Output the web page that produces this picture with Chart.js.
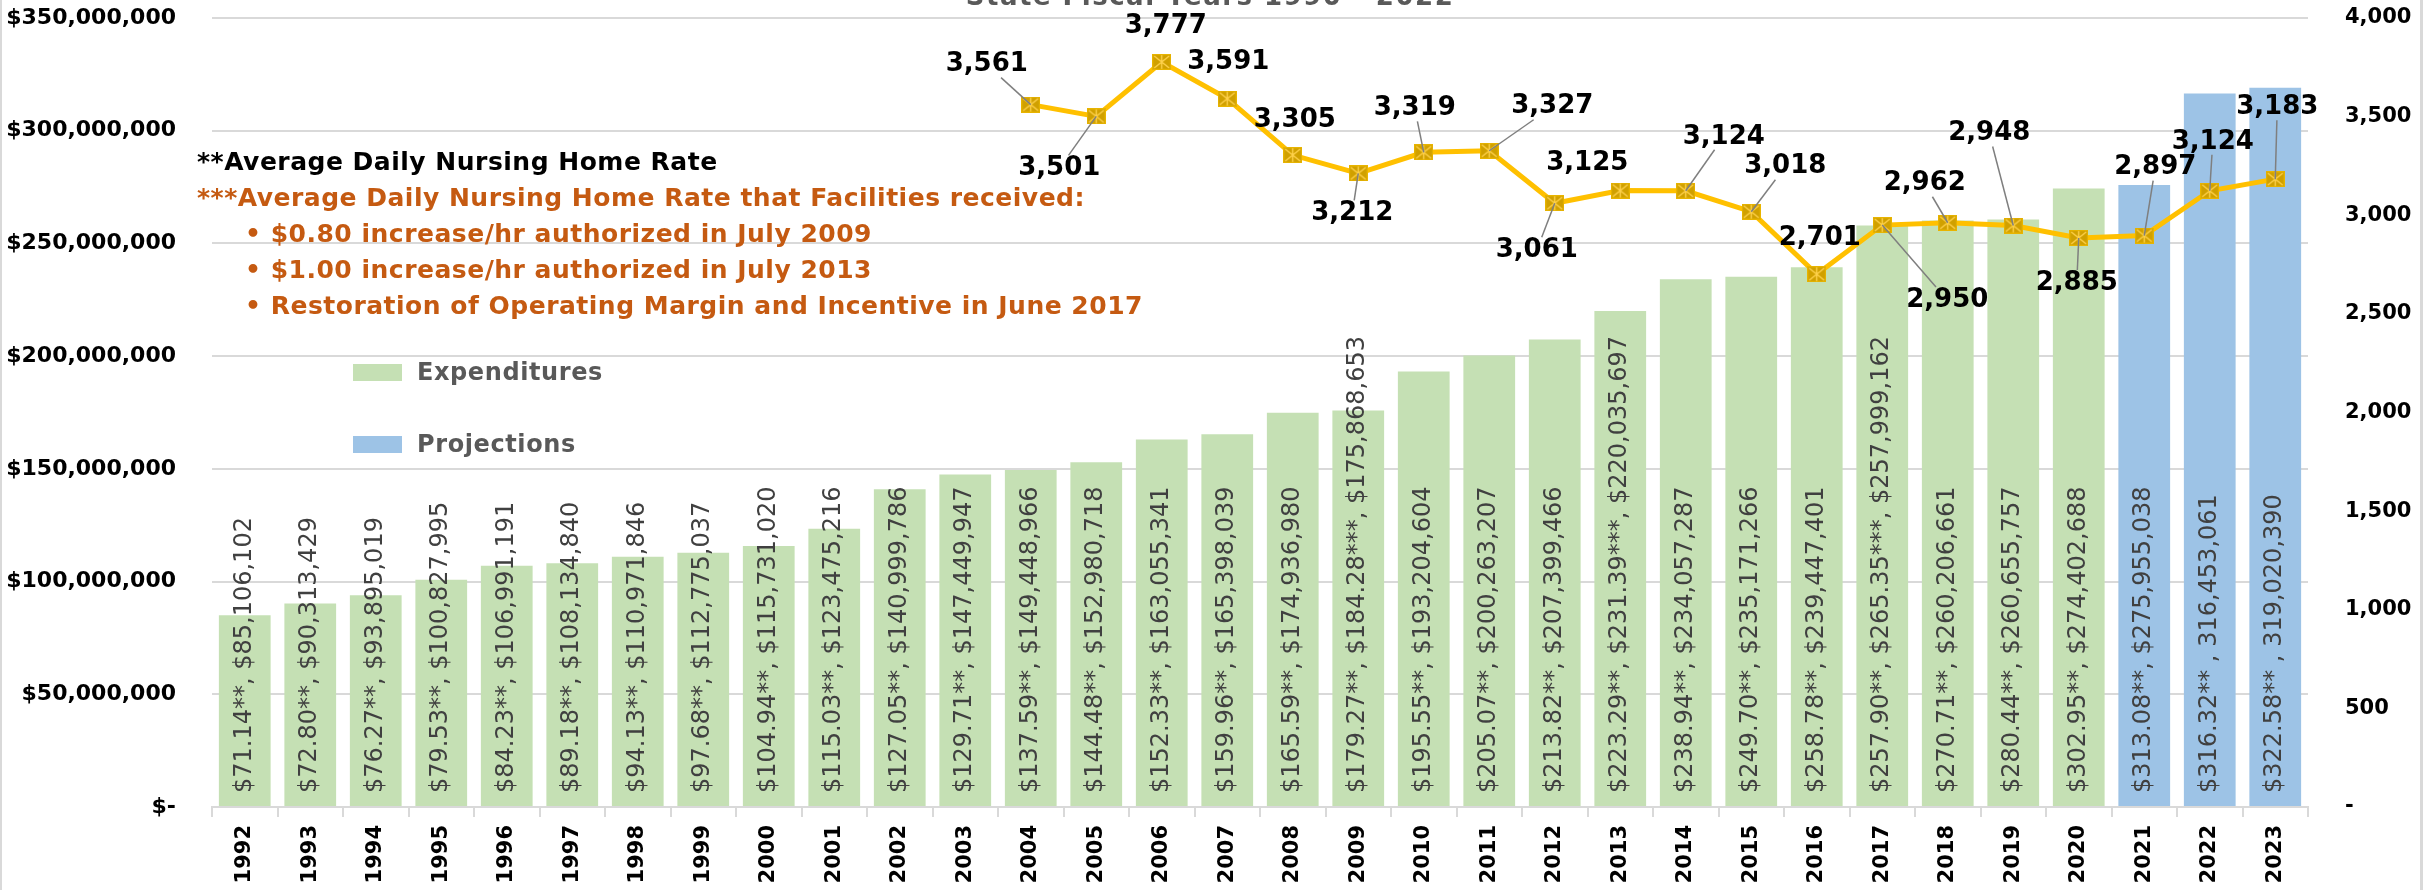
<!DOCTYPE html>
<html>
<head>
<meta charset="utf-8">
<script src="https://cdn.jsdelivr.net/npm/chart.js@4.4.1/dist/chart.umd.min.js"></script>
<style>
  html, body { margin: 0; padding: 0; background: #fff; }
  #wrap { position: relative; width: 2433px; height: 890px; overflow: hidden; font-family: 'DejaVu Sans', sans-serif; }
  #chart { position: absolute; left: 0; top: 0; }
  .frame { position: absolute; left: 0; top: 0; width: 2418px; height: 890px; border-left: 2px solid #d9d9d9; border-right: 3px solid #d9d9d9; }
  .title { position: absolute; left: 0; width: 2420px; top: -17px; line-height: 26px; text-align: center; font-weight: bold; font-size: 26px; letter-spacing: 1.5px; color: #595959; }
  .notes { position: absolute; left: 197px; top: 144px; font-weight: bold; font-size: 25px; letter-spacing: 0.5px; line-height: 36px; color: #c55a11; white-space: nowrap; }
  .notes .black { color: #000; }
  .notes .bullet { padding-left: 48px; }
  .legend-item { position: absolute; left: 353px; height: 17px; white-space: nowrap; }
  .legend-item .box { position: absolute; left: 0; top: 0; width: 49px; height: 17px; }
  .legend-item .txt { position: absolute; left: 64px; top: -8px; line-height: 33px; font-weight: bold; font-size: 24px; letter-spacing: 0.6px; color: #595959; }
</style>
</head>
<body>
<div id="wrap">
  <div class="frame"></div>
  <canvas id="chart" width="2433" height="890"></canvas>
  <div class="title">State Fiscal Years 1990 - 2022</div>
  <div class="notes">
    <div class="black">**Average Daily Nursing Home Rate</div>
    <div>***Average Daily Nursing Home Rate that Facilities received:</div>
    <div class="bullet">• $0.80 increase/hr authorized in July 2009</div>
    <div class="bullet">• $1.00 increase/hr authorized in July 2013</div>
    <div class="bullet">• Restoration of Operating Margin and Incentive in June 2017</div>
  </div>
  <div id="legend"></div>
</div>
<script>
// fiscal years
const years = ['1992', '1993', '1994', '1995', '1996', '1997', '1998', '1999', '2000', '2001',
  '2002', '2003', '2004', '2005', '2006', '2007', '2008', '2009', '2010', '2011',
  '2012', '2013', '2014', '2015', '2016', '2017', '2018', '2019', '2020', '2021', '2022', '2023'];

// actual spending (left axis)
const expenditures = [85106102, 90313429, 93895019, 100827995, 106991191, 108134840, 110971846, 112775037,
  115731020, 123475216, 140999786, 147449947, 149448966, 152980718, 163055341, 165398039, 174936980,
  175868653, 193204604, 200263207, 207399466, 220035697, 234057287, 235171266, 239447401, 257999162,
  260206661, 260655757, 274402688, null, null, null];

// projected spending (left axis)
const projections = [null, null, null, null, null, null, null, null, null, null, null, null, null, null, null,
  null, null, null, null, null, null, null, null, null, null, null, null, null, null,
  275955038, 316453061, 319020390];

// ** average daily nursing home rate
const dailyRate = [71.14, 72.80, 76.27, 79.53, 84.23, 89.18, 94.13, 97.68, 104.94, 115.03, 127.05, 129.71,
  137.59, 144.48, 152.33, 159.96, 165.59, 179.27, 195.55, 205.07, 213.82, 223.29, 238.94, 249.70, 258.78,
  257.90, 270.71, 280.44, 302.95, 313.08, 316.32, 322.58];

// *** rate that facilities received after the increases
const receivedRate = [null, null, null, null, null, null, null, null, null, null, null, null, null, null, null,
  null, null, 184.28, null, null, null, 231.39, null, null, null, 265.35, null, null, null, null, null, null];

// line series (right axis)
const lineValues = [null, null, null, null, null, null, null, null, null, null, null, null,
  3561, 3501, 3777, 3591, 3305, 3212, 3319, 3327, 3061, 3125, 3124, 3018, 2701, 2950, 2962, 2948,
  2885, 2897, 3124, 3183];

// years whose bar label prints the amount without a dollar sign
const plainAmountYears = ['2022', '2023'];

// where each line label sits relative to its point: [dx, dy, leader line]
const lineLabelPlacement = {
  '2004': [-44, -40, true], '2005': [-37, 52, true], '2006': [4, -36, false], '2007': [1, -36, false],
  '2008': [2, -35, false], '2009': [-6, 40, true], '2010': [-9, -44, true], '2011': [63, -44, true],
  '2012': [-18, 47, true], '2013': [-33, -27, false], '2014': [38, -54, true], '2015': [34, -45, true],
  '2016': [3, -36, false], '2017': [65, 75, true], '2018': [-23, -39, true], '2019': [-24, -92, true],
  '2020': [-2, 45, true], '2021': [11, -68, true], '2022': [3, -49, true], '2023': [2, -72, true]
};

const FONT = "'DejaVu Sans', sans-serif";
const fmt = v => v.toLocaleString('en-US');

function barLabel(i) {
  let s = '$' + dailyRate[i].toFixed(2) + '**';
  if (receivedRate[i] != null) s += ', $' + receivedRate[i].toFixed(2) + '***';
  const amount = expenditures[i] != null ? expenditures[i] : projections[i];
  if (plainAmountYears.includes(years[i])) return s + ' , ' + fmt(amount);
  return s + ', $' + fmt(amount);
}

function makeMarker() {
  const c = document.createElement('canvas');
  c.width = 19; c.height = 16;
  const g = c.getContext('2d');
  g.fillStyle = '#d0a000';
  g.fillRect(0, 0, 19, 16);
  g.strokeStyle = '#ffd24d';
  g.lineWidth = 1.4;
  g.beginPath();
  g.moveTo(2, 2); g.lineTo(17, 14);
  g.moveTo(17, 2); g.lineTo(2, 14);
  g.moveTo(9.5, 1); g.lineTo(9.5, 15);
  g.stroke();
  g.strokeStyle = '#e8b400';
  g.strokeRect(0.5, 0.5, 18, 15);
  return c;
}

const valueLabels = {
  id: 'valueLabels',
  afterDatasetsDraw(chart) {
    const ctx = chart.ctx;
    // rotated labels inside the bars
    [1, 2].forEach(di => {
      const meta = chart.getDatasetMeta(di);
      const data = chart.data.datasets[di].data;
      meta.data.forEach((bar, i) => {
        if (data[i] == null) return;
        ctx.save();
        ctx.translate(bar.x, bar.base - 13);
        ctx.rotate(-Math.PI / 2);
        ctx.font = '24px ' + FONT;
        ctx.fillStyle = '#404040';
        ctx.textAlign = 'left';
        ctx.textBaseline = 'middle';
        ctx.fillText(barLabel(i), 0, 0);
        ctx.restore();
      });
    });

    // line labels with leader lines
    const meta = chart.getDatasetMeta(0);
    ctx.save();
    ctx.font = 'bold 26px ' + FONT;
    ctx.textAlign = 'center';
    ctx.textBaseline = 'middle';
    meta.data.forEach((pt, i) => {
      if (lineValues[i] == null) return;
      const place = lineLabelPlacement[years[i]] || [0, -36, false];
      const text = fmt(lineValues[i]);
      const lx = pt.x + place[0], ly = pt.y + place[1];
      if (place[2]) {
        const w = ctx.measureText(text).width / 2 + 3, h = 13;
        const dx = pt.x - lx, dy = pt.y - ly;
        const t = Math.min(Math.abs(dx) > 0 ? w / Math.abs(dx) : Infinity, Math.abs(dy) > 0 ? h / Math.abs(dy) : Infinity);
        if (t < 1) {
          ctx.strokeStyle = '#7f7f7f';
          ctx.lineWidth = 1.5;
          ctx.beginPath();
          ctx.moveTo(lx + dx * t, ly + dy * t);
          ctx.lineTo(pt.x, pt.y);
          ctx.stroke();
        }
      }
      ctx.fillStyle = '#000';
      ctx.fillText(text, lx, ly);
    });
    ctx.restore();
  }
};

const chart = new Chart(document.getElementById('chart'), {
  data: {
    labels: years,
    datasets: [
      {
        type: 'line',
        label: 'Average Daily Count',
        data: lineValues,
        yAxisID: 'y1',
        borderColor: '#ffc000',
        borderWidth: 5,
        pointStyle: makeMarker(),
        pointRadius: 9,
        tension: 0,
        order: 0
      },
      {
        type: 'bar',
        label: 'Expenditures',
        data: expenditures,
        yAxisID: 'y',
        backgroundColor: '#c5e0b4',
        grouped: false,
        barPercentage: 0.79,
        categoryPercentage: 1,
        order: 1
      },
      {
        type: 'bar',
        label: 'Projections',
        data: projections,
        yAxisID: 'y',
        backgroundColor: '#9dc3e6',
        grouped: false,
        barPercentage: 0.79,
        categoryPercentage: 1,
        order: 1
      }
    ]
  },
  options: {
    responsive: false,
    animation: false,
    devicePixelRatio: 1,
    layout: { padding: { top: 18, left: 0, right: 0, bottom: 0 }, autoPadding: false },
    plugins: {
      legend: { display: false },
      tooltip: { enabled: false }
    },
    scales: {
      x: {
        offset: true,
        grid: { offset: true, drawOnChartArea: false, color: '#d9d9d9', lineWidth: 2, tickLength: 10 },
        border: { color: '#d9d9d9', width: 2 },
        ticks: {
          autoSkip: false, minRotation: 90, maxRotation: 90, padding: 8,
          color: '#000', font: { family: FONT, size: 21, weight: 'bold' }
        },
        afterFit: s => { s.height = 83; }
      },
      y: {
        position: 'left',
        min: 0, max: 350000000,
        // the gap between labels and plot comes from an invisible tick, so no extra top padding is reserved
        grid: { color: '#d9d9d9', lineWidth: 2, drawTicks: true, tickLength: 36, tickColor: 'rgba(0,0,0,0)' },
        border: { display: false },
        ticks: {
          stepSize: 50000000, padding: 0, color: '#000',
          font: { family: FONT, size: 22, weight: 'bold' },
          callback: v => v === 0 ? '$-' : '$' + fmt(v)
        },
        afterFit: s => { s.width = 212; }
      },
      y1: {
        position: 'right',
        min: 0, max: 4000,
        grid: { drawOnChartArea: false, drawTicks: true, tickLength: 37, tickColor: 'rgba(0,0,0,0)' },
        border: { display: false },
        ticks: {
          stepSize: 500, padding: 0, color: '#000',
          font: { family: FONT, size: 21, weight: 'bold' },
          callback: v => v === 0 ? '-' : fmt(v)
        },
        afterFit: s => { s.width = 125; }
      }
    }
  },
  plugins: [valueLabels]
});

// legend built from the bar datasets
const legend = document.getElementById('legend');
chart.data.datasets.filter(d => d.type === 'bar').forEach((d, k) => {
  const item = document.createElement('div');
  item.className = 'legend-item';
  item.style.top = (364 + k * 72) + 'px';
  item.innerHTML = `<div class="box" style="background:${d.backgroundColor}"></div><div class="txt">${d.label}</div>`;
  legend.appendChild(item);
});
</script>
</body>
</html>
